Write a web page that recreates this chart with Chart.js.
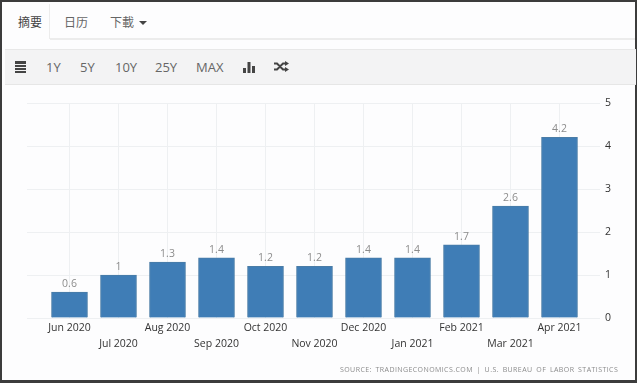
<!DOCTYPE html>
<html>
<head>
<meta charset="utf-8">
<script src="https://cdn.jsdelivr.net/npm/chart.js@4/dist/chart.umd.min.js"></script>
<style>
html, body { margin: 0; padding: 0; width: 640px; height: 386px; overflow: hidden; background: #fff; }
body { position: relative; font-family: "Open Sans", sans-serif; }
#frame { position: absolute; left: 0; top: 0; width: 633px; height: 378px; border: solid #3c3c3c; border-width: 2px 2px 3px 2px; background: #fdfdfe; }
#chart { position: absolute; left: 0; top: 0; }
.tabline { position: absolute; left: 50px; top: 38px; width: 585px; height: 2px; background: #ececec; }
.tabedge { position: absolute; left: 49px; top: 4px; width: 1px; height: 35px; background: #ececec; }
.tab { position: absolute; top: 13px; font: 12px/18px "Noto Sans CJK SC"; color: #666; }
.caret { position: absolute; left: 139px; top: 21px; border: solid transparent; border-width: 4px 4px 0 4px; border-top-color: #444; }
#toolbar { position: absolute; left: 5px; top: 49px; width: 631px; height: 36px; background: #f3f3f4; border-top: 1px solid #e8e8e8; border-bottom: 1px solid #e6e6e6; box-sizing: border-box; }
.range { position: absolute; top: 58px; font: 13px "Open Sans"; color: #666; }
.icon { position: absolute; }
#source { position: absolute; left: 340px; top: 365px; font: 7px "Open Sans"; letter-spacing: 0.42px; word-spacing: 1.5px; color: #8b8b8b; white-space: nowrap; }
</style>
</head>
<body>
<div id="frame"></div>
<div class="tabedge"></div>
<div class="tabline"></div>
<div class="tab" style="left:18px;color:#444">摘要</div>
<div class="tab" style="left:64px">日历</div>
<div class="tab" style="left:110px">下載</div>
<div class="caret"></div>
<div id="toolbar"></div>
<svg class="icon" style="left:15px;top:60px" width="11" height="13" viewBox="0 0 11 13"><path fill="#444" d="M0 1h11v3H0zM0 5h11v2H0zM0 8h11v2H0zM0 11h11v2H0z"/></svg>
<div class="range" style="left:46px">1Y</div>
<div class="range" style="left:80px">5Y</div>
<div class="range" style="left:115px">10Y</div>
<div class="range" style="left:155px">25Y</div>
<div class="range" style="left:196px">MAX</div>
<svg class="icon" style="left:243px;top:62px" width="12" height="11" viewBox="0 0 12 11"><path fill="#444" d="M0 6h3v5H0zM4.500 0h3v11h-3zM9 4h3v7H9z"/></svg>
<svg class="icon" style="left:274px;top:61px" width="15" height="11" viewBox="0 0 15 11"><path fill="none" stroke="#444" stroke-width="2" d="M0 2.500h3l6 6h3M0 8.500h3l6-6h3"/><path fill="#444" d="M11 0l4 2.500-4 2.500zM11 6l4 2.500-4 2.500z"/></svg>
<canvas id="chart" width="640" height="386"></canvas>
<div id="source">SOURCE: TRADINGECONOMICS.COM | U.S. BUREAU OF LABOR STATISTICS</div>
<script>
const categories = ['Jun 2020', 'Jul 2020', 'Aug 2020', 'Sep 2020', 'Oct 2020', 'Nov 2020', 'Dec 2020', 'Jan 2021', 'Feb 2021', 'Mar 2021', 'Apr 2021']
const values = [0.6, 1, 1.3, 1.4, 1.2, 1.2, 1.4, 1.4, 1.7, 2.6, 4.2]
const yTicks = [0, 1, 2, 3, 4, 5]

const gridColor = '#eef0f2'

// the value printed above every bar
const barLabels = {
    id: 'barLabels',
    afterDatasetsDraw(chart) {
        const ctx = chart.ctx
        ctx.save()
        ctx.font = '10.5px "Open Sans"'
        ctx.fillStyle = '#8c8c8c'
        ctx.textAlign = 'center'
        ctx.textBaseline = 'bottom'
        chart.getDatasetMeta(0).data.forEach((bar, i) => {
            ctx.fillText(values[i], bar.x, bar.y - 3)
        })
        ctx.restore()
    }
}

// horizontal grid runs a bit further left than the first category slot
const gridStubs = {
    id: 'gridStubs',
    beforeDatasetsDraw(chart) {
        const ctx = chart.ctx
        const y = chart.scales.y
        ctx.save()
        ctx.strokeStyle = gridColor
        ctx.lineWidth = 1
        ctx.beginPath()
        for (const t of yTicks) {
            const py = Math.round(y.getPixelForValue(t)) + 0.5
            ctx.moveTo(27, py)
            ctx.lineTo(chart.chartArea.left, py)
        }
        ctx.stroke()
        ctx.restore()
    }
}

let ctx = document.getElementById('chart').getContext('2d')
window.chart = new Chart(ctx, {
    type: 'bar',
    data: {
        labels: categories,
        datasets: [
            {
                data: values,
                backgroundColor: '#3f7db6',
                borderColor: '#4a7ca6',
                borderWidth: 1,
                barThickness: 36
            }
        ]
    },
    plugins: [barLabels, gridStubs],
    options: {
        responsive: false,
        animation: false,
        layout: {
            padding: { left: 45, top: 103, right: 0, bottom: 0 }
        },
        plugins: {
            legend: { display: false },
            tooltip: { enabled: false }
        },
        scales: {
            x: {
                type: 'category',
                offset: true,
                grid: {
                    offset: false,
                    color: gridColor,
                    drawTicks: false,
                    tickLength: 0
                },
                border: { display: false },
                afterFit(scale) { scale.height = 68 },
                ticks: {
                    autoSkip: false,
                    maxRotation: 0,
                    minRotation: 0,
                    padding: 2,
                    color: '#333',
                    font: { family: 'Open Sans', size: 10.5, lineHeight: 1.52 },
                    // every other label drops to a second row
                    callback(value, index) {
                        return index % 2 ? ['', categories[index]] : categories[index]
                    }
                }
            },
            y: {
                position: 'right',
                min: 0,
                max: 5,
                afterBuildTicks(scale) { scale.ticks = yTicks.map(v => ({ value: v })) },
                afterFit(scale) { scale.width = 56 },
                grid: {
                    color: gridColor,
                    tickLength: 16
                },
                border: { display: false },
                ticks: {
                    padding: 5,
                    color: '#333',
                    font: { family: 'Open Sans', size: 10.5 }
                }
            }
        }
    }
})
</script>
</body>
</html>
